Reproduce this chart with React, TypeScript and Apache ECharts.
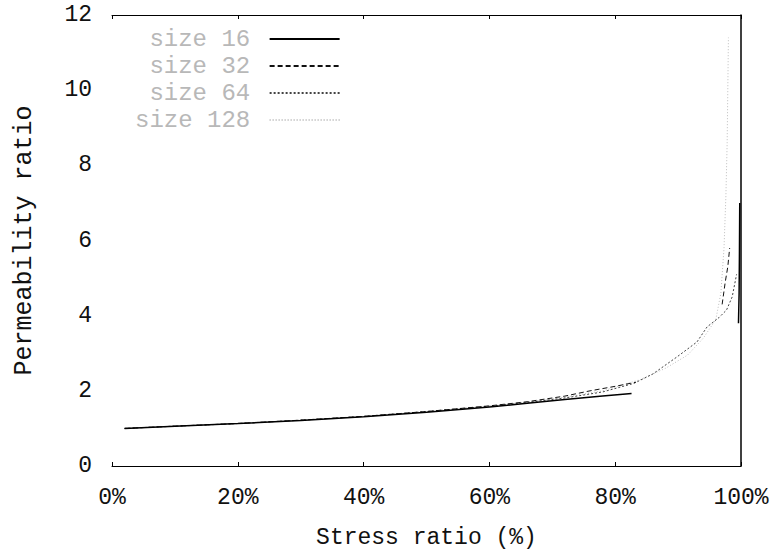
import React, { useEffect, useRef } from "react";
import * as echarts from "echarts";

const seriesNames = ["size 16", "size 32", "size 64", "size 128"];

// stress ratio (%) / permeability ratio, null = break in the curve
const x16 = [2, 10, 20, 30, 40, 50, 60, 66, 72, 78, 82.6, null, 99.6, 99.7, 99.75, 99.8];
const y16 = [1.0, 1.06, 1.13, 1.21, 1.31, 1.43, 1.57, 1.67, 1.77, 1.86, 1.93, null, 3.8, 4.6, 5.6, 7.0];

const x32 = [2, 10, 20, 30, 40, 50, 60, 66, 72, 76, 80, 83.3, null, 97, 97.5, 97.9, 98.2];
const y32 = [1.0, 1.06, 1.13, 1.22, 1.32, 1.45, 1.6, 1.71, 1.86, 2.0, 2.12, 2.23, null, 4.3, 4.9, 5.3, 5.8];

const x64 = [2, 10, 20, 30, 40, 50, 60, 66, 72, 78, 83, 86, 89.8, 93, 94.6, 96.5, 97.7, 98.6, 99.3];
const y64 = [1.0, 1.06, 1.13, 1.22, 1.32, 1.45, 1.59, 1.69, 1.81, 1.97, 2.2, 2.45, 2.9, 3.3, 3.7, 3.95, 4.15, 4.5, 5.1];

const x128 = [2, 10, 20, 30, 40, 50, 60, 66, 72, 78, 84, 88, 91.5, 94, 96, 96.8, 97.3, 97.6, 97.8, 97.9, 98.0];
const y128 = [1.0, 1.06, 1.13, 1.22, 1.32, 1.45, 1.6, 1.7, 1.83, 2.0, 2.3, 2.6, 2.95, 3.4, 3.9, 4.6, 5.8, 7.2, 8.6, 10.0, 11.4];

const xTicks = { min: 0, max: 100, interval: 20 };
const yTicks = { min: 0, max: 12, interval: 2 };

const FONT = "Liberation Mono";

function zip(xs: (number | null)[], ys: (number | null)[]) {
  return xs.map((x, i) => (x === null || ys[i] === null ? ["-", "-"] : [x, ys[i]]));
}

export default function App() {
  const ref = useRef<HTMLDivElement>(null);
  useEffect(() => {
    if (!ref.current) return;
    const chart = echarts.init(ref.current, undefined, { renderer: "svg" });
    const styles = [
      { color: "#000", width: 1.5, type: "solid" as any },
      { color: "#111", width: 1, type: [5, 3] as any },
      { color: "#444", width: 1, type: [2, 2] as any },
      { color: "#bdbdbd", width: 1, type: [1, 2] as any },
    ];
    const data = [zip(x16, y16), zip(x32, y32), zip(x64, y64), zip(x128, y128)];
    chart.setOption({
      animation: false,
      backgroundColor: "#fff",
      textStyle: { fontFamily: FONT },
      grid: { left: 112, right: 33, top: 15, bottom: 85, containLabel: false, outerBoundsMode: "none" },
      legend: {
        orient: "vertical",
        left: 130,
        top: 22,
        align: "right",
        itemWidth: 70,
        itemHeight: 14,
        itemGap: 3,
        data: seriesNames,
        itemStyle: { opacity: 0 },
        formatter: (n: string) => n.padStart(8, " ") + " ",
        textStyle: { fontFamily: FONT, fontSize: 24, color: "#b8b8b8" },
      },
      xAxis: [
        {
          type: "value",
          position: "bottom",
          ...xTicks,
          axisLine: { show: true, lineStyle: { color: "#000", width: 1 } },
          axisTick: { show: true, inside: true, length: 4, lineStyle: { color: "#000" } },
          splitLine: { show: false },
          axisLabel: { formatter: "{value}%", fontFamily: FONT, fontSize: 23, color: "#111", margin: 20 },
          name: "Stress ratio (%)",
          nameLocation: "middle",
          nameGap: 60,
          nameTextStyle: { fontFamily: FONT, fontSize: 23, color: "#111" },
        },
        {
          type: "value",
          position: "top",
          ...xTicks,
          axisLine: { show: true, onZero: false, lineStyle: { color: "#000", width: 1 } },
          axisTick: { show: true, inside: true, length: 4, lineStyle: { color: "#000" } },
          splitLine: { show: false },
          axisLabel: { show: false },
        },
      ],
      yAxis: [
        {
          type: "value",
          position: "left",
          ...yTicks,
          axisLine: { show: false },
          axisTick: { show: false },
          splitLine: { show: false },
          axisLabel: { fontFamily: FONT, fontSize: 23, color: "#111", margin: 20 },
          name: "Permeability ratio",
          nameLocation: "middle",
          nameGap: 75,
          nameTextStyle: { fontFamily: FONT, fontSize: 25, color: "#111" },
        },
        {
          type: "value",
          position: "right",
          ...yTicks,
          axisLine: { show: true, onZero: false, lineStyle: { color: "#000", width: 1.5 } },
          axisTick: { show: false },
          splitLine: { show: false },
          axisLabel: { show: false },
        },
      ],
      series: seriesNames.map((name, i) => ({
        name,
        type: "line",
        xAxisIndex: 0,
        yAxisIndex: 0,
        symbol: "none",
        connectNulls: false,
        data: data[i],
        lineStyle: styles[i],
        itemStyle: { color: styles[i].color },
        z: 10 - i,
      })),
    });
    return () => chart.dispose();
  }, []);
  return (
    <div
      ref={ref}
      style={{ position: "fixed", left: 0, top: 0, width: 774, height: 551, background: "#fff" }}
    />
  );
}
